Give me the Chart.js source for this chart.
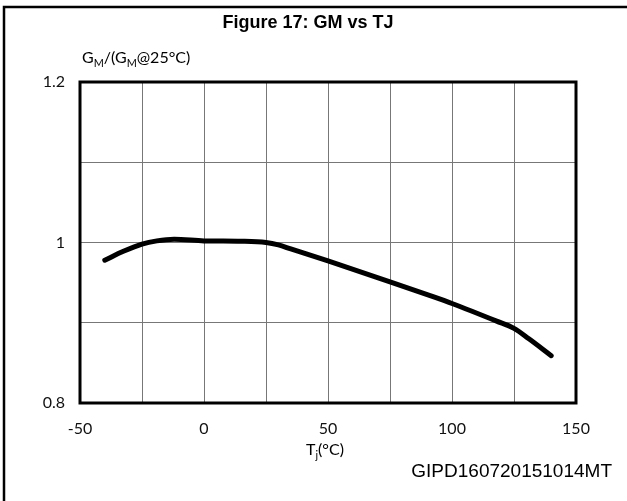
<!DOCTYPE html>
<html>
<head>
<meta charset="utf-8">
<script src="https://cdn.jsdelivr.net/npm/chart.js@4.4.1/dist/chart.umd.min.js"></script>
<style>
  html, body { margin: 0; padding: 0; background: #fff; }
  #gmChart { display: block; }
</style>
</head>
<body>
<canvas id="gmChart" width="627" height="501"></canvas>
<script>
// Junction temperature (°C) and normalised transconductance
const tempC = [-40, -32.5, -25, -19, -12, 0, 15, 25, 30, 35, 50, 75, 90, 100, 118, 125, 131, 140];
const gmRatio = [0.978, 0.989, 0.998, 1.002, 1.004, 1.002, 1.0015, 1.0, 0.997, 0.992, 0.977, 0.951, 0.935, 0.924, 0.902, 0.893, 0.880, 0.859];

// Tick labels, one per grid line (empty = grid line without label)
const xTickLabels = ['-50', '', '0', '', '50', '', '100', '', '150'];
const yTickLabels = ['0.8', '', '1', '', '1.2'];

const labelFont = 'Lato';

// Draws the outer frame, plot box and all the free text
const annotations = {
    id: 'annotations',
    afterDraw(chart) {
        const ctx = chart.ctx;
        const area = chart.chartArea;
        ctx.save();

        // plot box
        ctx.strokeStyle = '#000';
        ctx.lineWidth = 3;
        ctx.strokeRect(area.left, area.top, area.right - area.left, area.bottom - area.top);

        // outer frame (top and left edges only)
        ctx.lineWidth = 2.5;
        ctx.beginPath();
        ctx.moveTo(4, 501);
        ctx.lineTo(4, 7);
        ctx.lineTo(627, 7);
        ctx.stroke();

        ctx.fillStyle = '#000';

        // title
        ctx.font = 'bold 18px "Liberation Sans"';
        ctx.textAlign = 'center';
        ctx.textBaseline = 'alphabetic';
        ctx.fillText('Figure 17: GM vs TJ', 308, 28);

        // y axis title with subscripts
        drawRich(ctx, [['G', 0], ['M', 1], ['/(G', 0], ['M', 1], ['@25°C)', 0]], 82, 63, 16);

        // x axis title
        drawRich(ctx, [['T', 0], ['j', 1], ['(°C)', 0]], 306, 455, 16);

        // figure code
        ctx.font = '19px "Liberation Sans"';
        ctx.textAlign = 'right';
        ctx.fillText('GIPD160720151014MT', 612, 477);

        ctx.restore();
    }
};

function drawRich(ctx, parts, x, y, size) {
    ctx.textAlign = 'left';
    ctx.textBaseline = 'alphabetic';
    let cx = x;
    parts.forEach(([txt, sub]) => {
        const s = sub ? size * 0.68 : size;
        ctx.font = s + 'px ' + labelFont;
        ctx.fillText(txt, cx, sub ? y + 4 : y);
        cx += ctx.measureText(txt).width;
    });
}

new Chart(document.getElementById('gmChart'), {
    type: 'line',
    data: {
        datasets: [{
            data: tempC.map((t, i) => ({ x: t, y: gmRatio[i] })),
            borderColor: '#000',
            borderWidth: 5,
            borderCapStyle: 'round',
            borderJoinStyle: 'round',
            pointRadius: 0,
            cubicInterpolationMode: 'monotone',
            fill: false
        }]
    },
    options: {
        responsive: false,
        animation: false,
        devicePixelRatio: 1,
        layout: {
            padding: { top: 82, right: 51, left: 0, bottom: 0 }
        },
        plugins: {
            legend: { display: false },
            tooltip: { enabled: false }
        },
        scales: {
            x: {
                type: 'linear',
                min: -50,
                max: 150,
                afterFit: s => { s.height = 98; },
                grid: { color: '#777', lineWidth: 1, drawTicks: false },
                border: { display: false },
                ticks: {
                    stepSize: 25,
                    padding: 16,
                    maxRotation: 0,
                    autoSkip: false,
                    color: '#111',
                    font: { family: labelFont, size: 16 },
                    callback: (v, i) => xTickLabels[i]
                }
            },
            y: {
                min: 0.8,
                max: 1.2,
                afterFit: s => { s.width = 80; },
                grid: { color: '#777', lineWidth: 1, drawTicks: false },
                border: { display: false },
                ticks: {
                    stepSize: 0.1,
                    padding: 15,
                    autoSkip: false,
                    color: '#111',
                    font: { family: labelFont, size: 16 },
                    callback: (v, i) => yTickLabels[i]
                }
            }
        }
    },
    plugins: [annotations]
});
</script>
</body>
</html>
